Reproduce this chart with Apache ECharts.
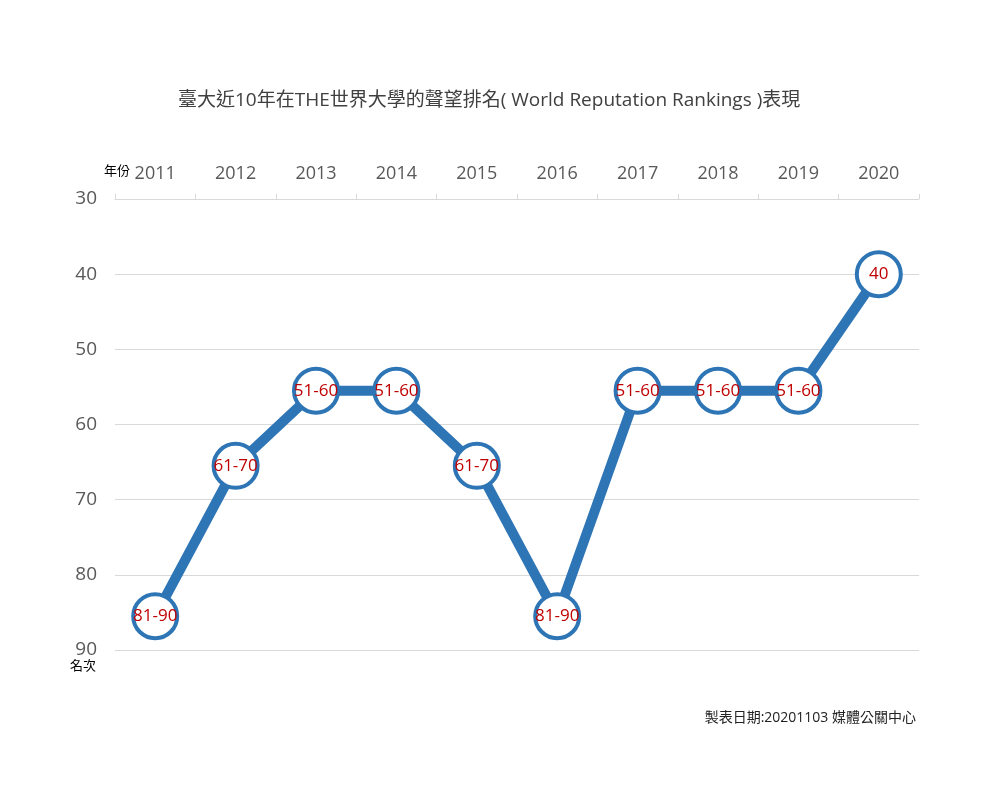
<!DOCTYPE html>
<html>
<head>
<meta charset="utf-8">
<script src="https://cdn.jsdelivr.net/npm/echarts@6/dist/echarts.min.js"></script>
<style>
  html, body { margin: 0; padding: 0; background: #fff; }
  #main { width: 1000px; height: 800px; }
</style>
</head>
<body>
<div id="main"></div>
<script>
  // 資料
  var years = ['2011', '2012', '2013', '2014', '2015', '2016', '2017', '2018', '2019', '2020'];
  var rankValues = [85.5, 65.5, 55.5, 55.5, 65.5, 85.5, 55.5, 55.5, 55.5, 40];
  var rankLabels = ['81-90', '61-70', '51-60', '51-60', '61-70', '81-90', '51-60', '51-60', '51-60', '40'];

  var myChart = echarts.init(document.getElementById('main'));
  var font = '"Open Sans", "Noto Sans CJK TC", sans-serif';

  var option = {
    backgroundColor: '#fff',
    animation: false,
    title: {
      text: '臺大近10年在THE世界大學的聲望排名( World Reputation Rankings )表現',
      left: 173,
      top: 86,
      textStyle: { fontFamily: font, fontSize: 19, fontWeight: 'normal', color: '#404040' }
    },
    grid: { left: 115, right: 81, top: 199, bottom: 150 },
    xAxis: {
      type: 'category',
      position: 'top',
      data: years,
      boundaryGap: true,
      axisLine: { show: true, lineStyle: { color: '#d9d9d9' } },
      axisTick: { show: true, length: 5, lineStyle: { color: '#d9d9d9' } },
      axisLabel: { fontFamily: font, fontSize: 18, color: '#595959', margin: 16 }
    },
    yAxis: {
      type: 'value',
      inverse: true,
      min: 30,
      max: 90,
      interval: 10,
      axisLine: { show: false },
      axisTick: { show: false },
      splitLine: { lineStyle: { color: '#d9d9d9', width: 1 } },
      axisLabel: { fontFamily: font, fontSize: 19, color: '#595959', margin: 18 }
    },
    graphic: [
      { type: 'text', left: 104, top: 165, style: { text: '年份', fontFamily: font, fontSize: 13, fill: '#000' } },
      { type: 'text', left: 70, top: 660, style: { text: '名次', fontFamily: font, fontSize: 13, fill: '#000' } },
      { type: 'text', right: 84, top: 711, style: { text: '製表日期:20201103 媒體公關中心', fontFamily: font, fontSize: 14, fill: '#222' } }
    ],
    series: [{
      type: 'line',
      data: rankValues,
      symbol: 'circle',
      symbolSize: 44,
      lineStyle: { color: '#2E75B6', width: 10 },
      itemStyle: { color: '#fff', borderColor: '#2E75B6', borderWidth: 4 },
      label: {
        show: true,
        position: 'inside',
        formatter: function (p) { return rankLabels[p.dataIndex]; },
        fontFamily: font,
        fontSize: 17,
        color: '#C00000'
      },
      z: 3
    }]
  };
  myChart.setOption(option);
</script>
</body>
</html>
